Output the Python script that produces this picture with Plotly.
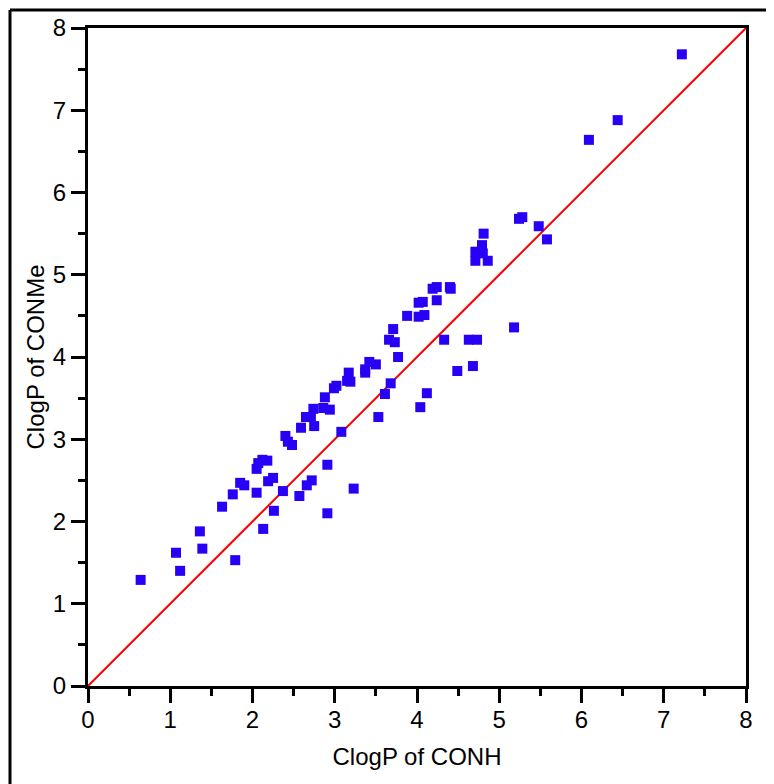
import plotly.graph_objects as go

clogp_conh = [0.64, 1.07, 1.12, 1.36, 1.39, 1.63, 1.79, 1.76, 1.85, 1.90,
              2.05, 2.13, 2.26, 2.37, 2.57, 2.66, 2.72, 2.91, 2.91, 3.23,
              2.05, 2.07, 2.12, 2.18, 2.19, 2.25, 2.40, 2.43, 2.48, 2.59,
              2.65, 2.71, 2.74, 2.75, 2.86, 2.94, 2.88, 2.99, 3.02, 3.08,
              3.15, 3.19, 3.17, 3.37, 3.37, 3.42, 3.50, 3.53, 3.61, 3.68,
              3.66, 3.73, 3.71, 3.77, 3.88, 4.02, 4.09, 4.02, 4.07, 4.24,
              4.19, 4.24, 4.40, 4.41, 4.33, 4.63, 4.73, 4.04, 4.12, 4.49,
              4.68, 5.18, 4.71, 4.71, 4.81, 4.79, 4.80, 4.86, 5.24, 5.28,
              5.48, 5.58, 6.09, 6.44, 7.22]
clogp_conme = [1.29, 1.62, 1.40, 1.88, 1.67, 2.18, 1.53, 2.33, 2.47, 2.44,
               2.35, 1.91, 2.13, 2.37, 2.31, 2.44, 2.50, 2.69, 2.10, 2.40,
               2.64, 2.71, 2.75, 2.74, 2.49, 2.53, 3.04, 2.97, 2.93, 3.14,
               3.27, 3.27, 3.37, 3.16, 3.38, 3.36, 3.51, 3.62, 3.65, 3.09,
               3.71, 3.70, 3.81, 3.81, 3.85, 3.94, 3.91, 3.27, 3.55, 3.68,
               4.21, 4.18, 4.34, 4.00, 4.50, 4.49, 4.51, 4.66, 4.67, 4.69,
               4.83, 4.85, 4.85, 4.83, 4.21, 4.21, 4.21, 3.39, 3.56, 3.83,
               3.89, 4.36, 5.28, 5.17, 5.50, 5.36, 5.26, 5.17, 5.68, 5.70,
               5.59, 5.43, 6.64, 6.88, 7.68]
identity_x = [0, 8]
identity_y = [0, 8]

FONT = "Arial, Liberation Sans, sans-serif"

fig = go.Figure()
fig.add_trace(go.Scatter(x=identity_x, y=identity_y, mode="lines",
                         line=dict(color="#ff0000", width=2), showlegend=False,
                         hoverinfo="skip"))
fig.add_trace(go.Scatter(x=clogp_conh, y=clogp_conme, mode="markers",
                         marker=dict(symbol="square", size=10, color="#2800f5",
                                     line=dict(width=0)),
                         showlegend=False))

axis_common = dict(
    range=[0, 8], dtick=1, showgrid=False, zeroline=False,
    showline=True, linecolor="black", linewidth=3, mirror=True,
    ticks="outside", ticklen=14, tickwidth=3, tickcolor="black",
    minor=dict(dtick=0.5, ticks="outside", ticklen=7, tickwidth=3,
               tickcolor="black", showgrid=False),
    tickfont=dict(family=FONT, size=24, color="black"),
)

fig.update_xaxes(**axis_common, ticklabelstandoff=-4,
                 title=dict(text="ClogP of CONH", standoff=17,
                            font=dict(family=FONT, size=24, color="black")))
fig.update_yaxes(**axis_common,
                 title=dict(text="ClogP of CONMe", standoff=2,
                            font=dict(family=FONT, size=24, color="black")))

# page body has an 8px default margin, so offset everything by -8px
fig.update_layout(
    width=774, height=784,
    margin=dict(l=80, r=36, t=20, b=106, pad=0, autoexpand=False),
    plot_bgcolor="white", paper_bgcolor="white",
    shapes=[
        dict(type="line", xref="paper", yref="paper",
             x0=(10 - 88) / 658, x1=1.1, y0=(686 - 10) / 658, y1=(686 - 10) / 658,
             line=dict(color="black", width=3)),
        dict(type="line", xref="paper", yref="paper",
             x0=(10 - 88) / 658, x1=(10 - 88) / 658, y0=(686 - 10) / 658, y1=-0.2,
             line=dict(color="black", width=3)),
    ],
)

fig.write_html("out.html")
